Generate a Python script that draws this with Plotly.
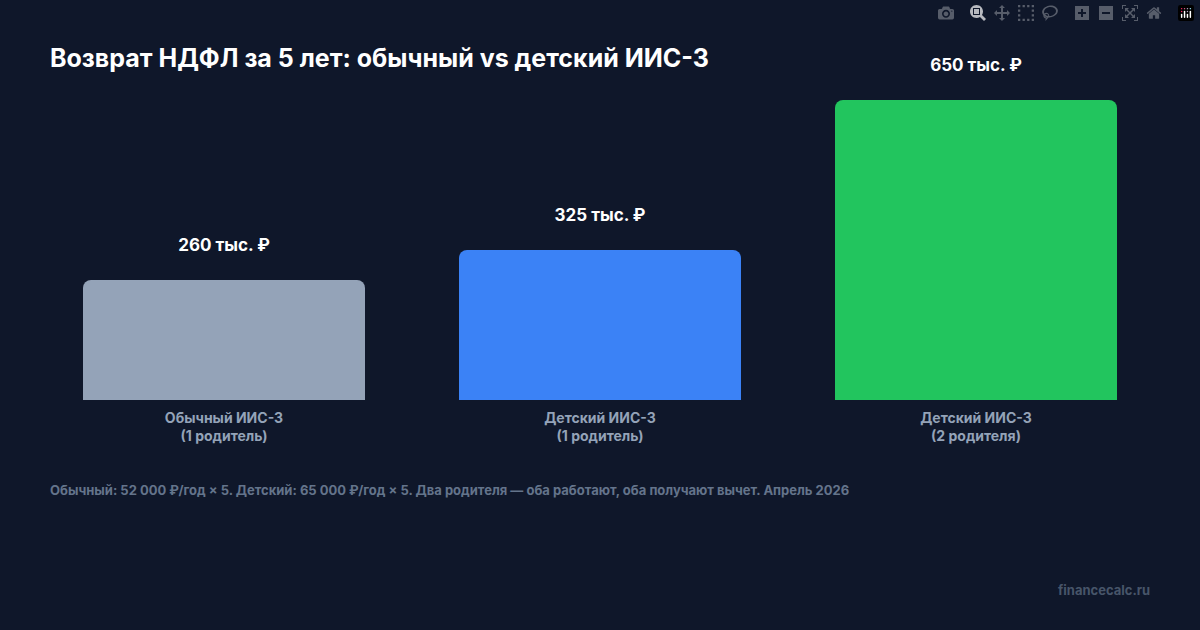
import plotly.graph_objects as go

categories = ["Обычный ИИС-3<br>(1 родитель)", "Детский ИИС-3<br>(1 родитель)", "Детский ИИС-3<br>(2 родителя)"]
values = [260, 325, 650]
labels = ["260 тыс. ₽", "325 тыс. ₽", "650 тыс. ₽"]
colors = ["#94a3b8", "#3b82f6", "#22c55e"]

bg = "#0f172a"

fig = go.Figure(go.Bar(
    x=categories, y=values, text=[l + "<br> " for l in labels], textposition="outside",
    textfont=dict(color="white", size=17, family="Inter", weight="bold"),
    marker=dict(color=colors, cornerradius=8, line_width=0),
    width=0.75, cliponaxis=False,
))

fig.update_layout(
    width=1200, height=630,
    paper_bgcolor=bg, plot_bgcolor=bg,
    margin=dict(l=36, r=36, t=100, b=230),
    font=dict(family="Inter", color="#94a3b8"),
    showlegend=False,
    xaxis=dict(showgrid=False, zeroline=False, showline=False, ticklabelstandoff=8,
               tickfont=dict(size=14, color="#94a3b8", weight="bold"), ticks=""),
    yaxis=dict(visible=False, range=[0, 650]),
    annotations=[
        dict(text="<b>Возврат НДФЛ за 5 лет: обычный vs детский ИИС-3</b>",
             xref="paper", yref="paper", x=(48 - 36) / 1128, y=1 + (100 - 58) / 300,
             xanchor="left", yanchor="middle", showarrow=False,
             font=dict(size=25, color="white")),
        dict(text="Обычный: 52 000 ₽/год × 5. Детский: 65 000 ₽/год × 5. Два родителя — оба работают, оба получают вычет. Апрель 2026",
             xref="paper", yref="paper", x=(48 - 36) / 1128, y=-(490 - 400) / 300,
             xanchor="left", yanchor="middle", showarrow=False,
             font=dict(size=13, color="#64748b", weight="bold")),
        dict(text="financecalc.ru",
             xref="paper", yref="paper", x=(1152 - 36) / 1128, y=-(590 - 400) / 300,
             xanchor="right", yanchor="middle", showarrow=False,
             font=dict(size=13, color="#475569", weight="bold")),
    ],
)

fig.write_html("out.html", post_script="document.body.style.margin='0';")
